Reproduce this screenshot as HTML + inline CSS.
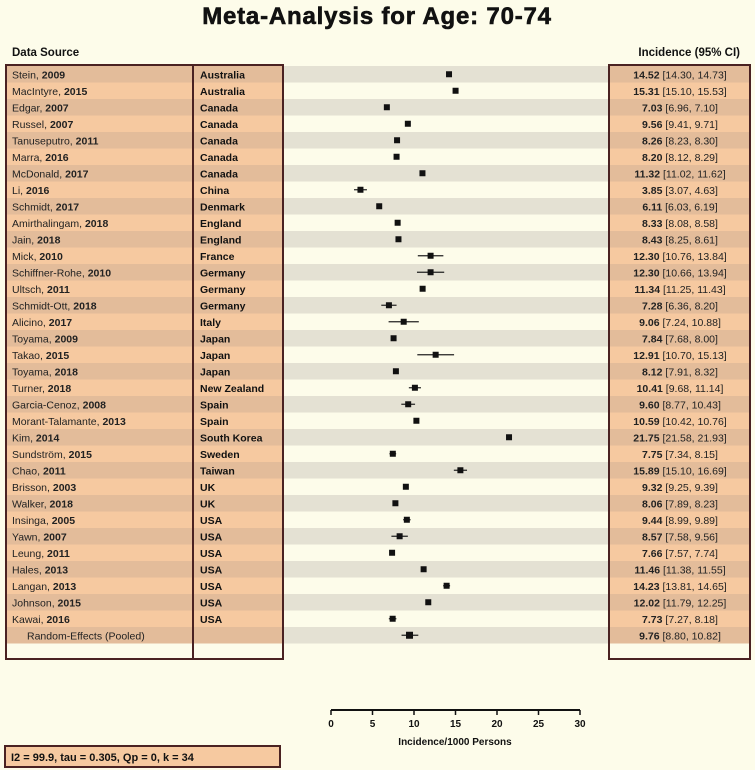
<!DOCTYPE html>
<html><head><meta charset="utf-8">
<style>
html,body{margin:0;padding:0;background:#fdfcea;}
svg{display:block;font-family:"Liberation Sans",sans-serif;}
</style></head>
<body>
<svg id="chart" width="755" height="770" viewBox="0 0 755 770" xmlns="http://www.w3.org/2000/svg">
<rect x="0" y="0" width="755" height="770" fill="#fdfcea"/>
<text x="377" y="24" text-anchor="middle" font-size="24" font-weight="900" letter-spacing="0.8" stroke="#111" stroke-width="0.6" fill="#111">Meta-Analysis for Age: 70-74</text>
<text x="12" y="56" font-size="11.5" font-weight="bold" fill="#111">Data Source</text>
<text x="740" y="56" text-anchor="end" font-size="11.5" font-weight="bold" fill="#111">Incidence (95% CI)</text>
<g id="rows"></g>
<rect x="6" y="65" width="277" height="594" fill="none" stroke="#4a2222" stroke-width="2"/>
<line x1="193" y1="65" x2="193" y2="659" stroke="#4a2222" stroke-width="2"/>
<rect x="609" y="65" width="141" height="594" fill="none" stroke="#4a2222" stroke-width="2"/>
<g id="axis"></g>
<text x="455" y="745" text-anchor="middle" font-size="10" font-weight="bold" fill="#111">Incidence/1000 Persons</text>
<rect x="5" y="746" width="275" height="21" fill="#f6c9a0" stroke="#4a2222" stroke-width="2"/>
<text x="11" y="761" font-size="11" font-weight="bold" fill="#111">I2 = 99.9, tau = 0.305, Qp = 0, k = 34</text>
</svg>
<script>
const authors=["Stein","MacIntyre","Edgar","Russel","Tanuseputro","Marra","McDonald","Li","Schmidt","Amirthalingam","Jain","Mick","Schiffner-Rohe","Ultsch","Schmidt-Ott","Alicino","Toyama","Takao","Toyama","Turner","Garcia-Cenoz","Morant-Talamante","Kim","Sundström","Chao","Brisson","Walker","Insinga","Yawn","Leung","Hales","Langan","Johnson","Kawai"];
const years=["2009","2015","2007","2007","2011","2016","2017","2016","2017","2018","2018","2010","2010","2011","2018","2017","2009","2015","2018","2018","2008","2013","2014","2015","2011","2003","2018","2005","2007","2011","2013","2013","2015","2016"];
const countries=["Australia","Australia","Canada","Canada","Canada","Canada","Canada","China","Denmark","England","England","France","Germany","Germany","Germany","Italy","Japan","Japan","Japan","New Zealand","Spain","Spain","South Korea","Sweden","Taiwan","UK","UK","USA","USA","USA","USA","USA","USA","USA"];
const estimates=[14.52,15.31,7.03,9.56,8.26,8.20,11.32,3.85,6.11,8.33,8.43,12.30,12.30,11.34,7.28,9.06,7.84,12.91,8.12,10.41,9.60,10.59,21.75,7.75,15.89,9.32,8.06,9.44,8.57,7.66,11.46,14.23,12.02,7.73];
const lower=[14.30,15.10,6.96,9.41,8.23,8.12,11.02,3.07,6.03,8.08,8.25,10.76,10.66,11.25,6.36,7.24,7.68,10.70,7.91,9.68,8.77,10.42,21.58,7.34,15.10,9.25,7.89,8.99,7.58,7.57,11.38,13.81,11.79,7.27];
const upper=[14.73,15.53,7.10,9.71,8.30,8.29,11.62,4.63,6.19,8.58,8.61,13.84,13.94,11.43,8.20,10.88,8.00,15.13,8.32,11.14,10.43,10.76,21.93,8.15,16.69,9.39,8.23,9.89,9.56,7.74,11.55,14.65,12.25,8.18];
const pooled=[9.76,8.80,10.82];
const ticks=[0,5,10,15,20,25,30];

const NS="http://www.w3.org/2000/svg";
function xs(v){return 331+v*8.3-2.5;}
function xa(v){return 331+v*8.3;}
const top0=66,rh=16.5;
function mk(tag,attrs,parent){const e=document.createElementNS(NS,tag);for(const k in attrs)e.setAttribute(k,attrs[k]);parent.appendChild(e);return e;}
const g=document.getElementById('rows');
const n=authors.length;
function f2(v){return v.toFixed(2);}
function drawRow(i,name,yr,country,est,lo,hi,isPooled){
  const y=top0+i*rh, cy=y+rh/2;
  const dark=i%2===0;
  const band=mk('rect',{x:7,y:y,width:742,height:rh,fill:dark?'#e4e1d3':'#fdfcea'},g);
  
  
  const p1=mk('rect',{x:7,y:y,width:276,height:rh,fill:dark?'#e3bc9a':'#f6c9a0'},g);
  
  
  const p2=mk('rect',{x:609,y:y,width:141,height:rh,fill:dark?'#e3bc9a':'#f6c9a0'},g);
  
  
  const t=mk('text',{x:isPooled?27:12,y:cy+4,'font-size':10.5,fill:'#222'},g);
  
  
  if(isPooled){t.textContent=name;}else{
    t.appendChild(document.createTextNode(name+', '));
    const b=mk('tspan',{'font-weight':'bold'},t);b.textContent=yr;}
  if(country){const c=mk('text',{x:200,y:cy+4,'font-size':10.5,'font-weight':'bold',fill:'#111'},g);c.textContent=country;
    
    }
  const r=mk('text',{x:680,y:cy+4,'font-size':10.5,'text-anchor':'middle',fill:'#222'},g);
  
  
  const b2=mk('tspan',{'font-weight':'bold'},r);b2.textContent=f2(est);
  r.appendChild(document.createTextNode(' ['+f2(lo)+', '+f2(hi)+']'));
  const l=mk('line',{x1:xs(lo),x2:xs(hi),y1:cy,y2:cy,stroke:'#222','stroke-width':1.2},g);
  
  
  const s=isPooled?7:6;
  const sq=mk('rect',{x:xs(est)-s/2,y:cy-s/2,width:s,height:s,fill:'#111'},g);
  
  
}
for(let i=0;i<n;i++)drawRow(i,authors[i],years[i],countries[i],estimates[i],lower[i],upper[i],false);
drawRow(n,'Random-Effects (Pooled)','','',pooled[0],pooled[1],pooled[2],true);
const ax=document.getElementById('axis');
const al=mk('line',{x1:xa(ticks[0]),x2:xa(ticks[ticks.length-1]),y1:710,y2:710,stroke:'#111','stroke-width':2},ax);


ticks.forEach(v=>{
  const tk=mk('line',{x1:xa(v),x2:xa(v),y1:710,y2:715,stroke:'#111','stroke-width':1.5},ax);
  
  
  const tl=mk('text',{x:xa(v),y:727,'text-anchor':'middle','font-size':10,'font-weight':'bold',fill:'#111'},ax);
  tl.textContent=v;
  
  
});
</script>
</body></html>
